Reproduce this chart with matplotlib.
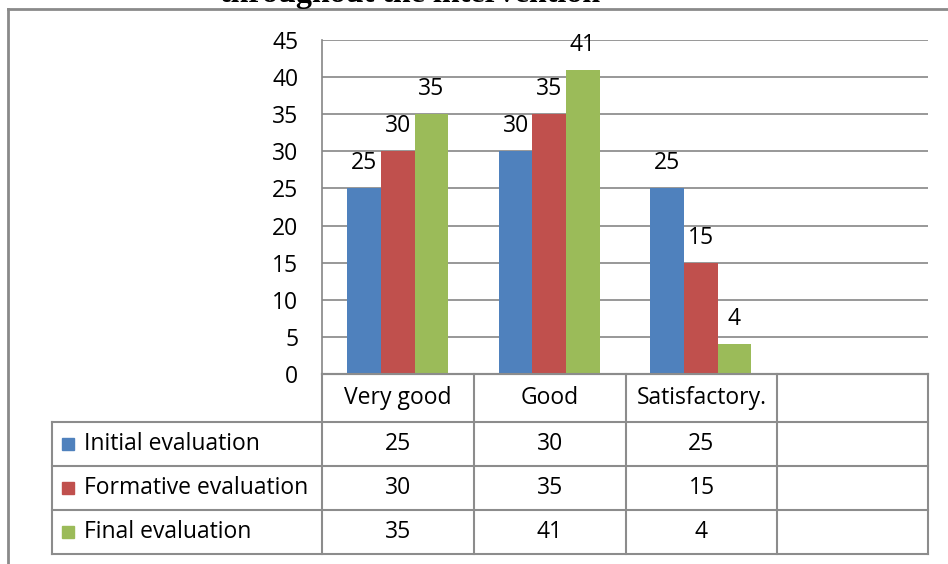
import matplotlib
matplotlib.use("Agg")
import matplotlib.pyplot as plt
import numpy as np

categories = ["Very good", "Good", "Satisfactory.", ""]
series_names = ["Initial evaluation", "Formative evaluation", "Final evaluation"]
initial = [25, 30, 25]
formative = [30, 35, 15]
final = [35, 41, 4]
colors = ["#4F81BD", "#C0504D", "#9BBB59"]
yticks = [0, 5, 10, 15, 20, 25, 30, 35, 40, 45]

plt.rcParams['font.family'] = ['Open Sans', 'DejaVu Sans']
fs = 16.5
W, H = 948, 564
fig = plt.figure(figsize=(W / 100, H / 100), dpi=100)

grid_c = "#868686"
line_c = "#8c8c8c"

# plot area in pixel coords
px_left, px_right, px_top, px_bottom = 322, 928, 40, 374
ax = fig.add_axes([px_left / W, 1 - px_bottom / H,
                   (px_right - px_left) / W, (px_bottom - px_top) / H])

x = np.arange(len(categories))
bw = 1 / 4.5
all_series = [initial, formative, final]
for i, vals in enumerate(all_series):
    xs = x[:len(vals)] + (i - 1) * bw
    ax.bar(xs, vals, width=bw, color=colors[i], zorder=3)
    for xi, v in zip(xs, vals):
        ax.annotate(str(v), (xi, v), xytext=(0, 18), textcoords="offset points",
                    ha="center", va="center", fontsize=fs)

ax.set_xlim(-0.5, len(categories) - 0.5)
ax.set_ylim(0, 45)
ax.set_yticks(yticks)
ax.set_yticklabels([str(t) for t in yticks], fontsize=fs)
ax.tick_params(axis="y", length=0, pad=17)
ax.set_xticks([])
ax.grid(axis="y", color=grid_c, linewidth=1.2, zorder=0)
for s in ["top", "right"]:
    ax.spines[s].set_visible(False)
ax.spines["left"].set_color(grid_c)
ax.spines["left"].set_linewidth(1.2)
ax.spines["bottom"].set_color(line_c)
ax.spines["bottom"].set_linewidth(1.5)

# overlay for table and frame
ov = fig.add_axes([0, 0, 1, 1])
ov.set_xlim(0, W)
ov.set_ylim(H, 0)
ov.axis("off")

col_edges = [322, 474, 626, 777, 928]
row_edges = [374, 422, 466, 510, 554]
tab_left = 52

ov.plot([322, 928], [374, 374], color=line_c, lw=1.5)
for y in row_edges[1:]:
    ov.plot([tab_left, 928], [y, y], color=line_c, lw=1.5)
for cx in col_edges:
    ov.plot([cx, cx], [374, 554], color=line_c, lw=1.5)
ov.plot([tab_left, tab_left], [422, 554], color=line_c, lw=1.5)

# header row
for j, cat in enumerate(categories):
    cx = (col_edges[j] + col_edges[j + 1]) / 2
    ov.text(cx, (row_edges[0] + row_edges[1]) / 2, cat, ha="center", va="center", fontsize=fs)

# data rows with legend keys
for i, (name, vals) in enumerate(zip(series_names, all_series)):
    cy = (row_edges[i + 1] + row_edges[i + 2]) / 2
    ov.add_patch(plt.Rectangle((62, cy - 6), 12, 12, color=colors[i]))
    ov.text(84, cy, name, ha="left", va="center", fontsize=fs)
    for j, v in enumerate(vals):
        cx = (col_edges[j] + col_edges[j + 1]) / 2
        ov.text(cx, cy, str(v), ha="center", va="center", fontsize=fs)

# outer frame and title (clipped at the top, as in the source)
ov.plot([8, W], [9, 9], color="#8a8a8a", lw=2)
ov.plot([8, 8], [9, H], color="#8a8a8a", lw=2)
ov.text(410, 2, "throughout the intervention", ha="center", va="baseline",
        fontsize=23, fontweight="bold", family="Liberation Serif")

fig.savefig("out.png", dpi=100)
